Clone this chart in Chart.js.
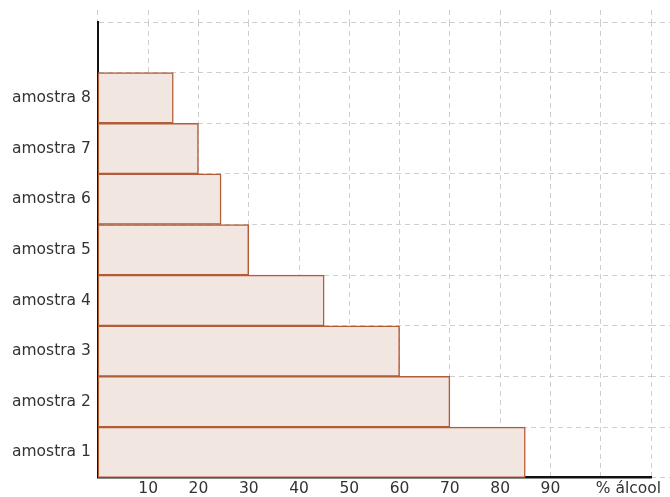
<!DOCTYPE html>
<html>
<head>
<meta charset="utf-8">
<script src="https://cdn.jsdelivr.net/npm/chart.js@4/dist/chart.umd.min.js"></script>
<style>
  html, body { margin: 0; padding: 0; background: #fff; }
  #wrap { width: 670px; height: 497px; }
</style>
</head>
<body>
<div id="wrap"><canvas id="alcoolChart"></canvas></div>
<script>
// top row is left empty, like in the original
const categories = ['', 'amostra 8', 'amostra 7', 'amostra 6', 'amostra 5',
                    'amostra 4', 'amostra 3', 'amostra 2', 'amostra 1'];
const alcool = [null, 15, 20, 24.5, 30, 45, 60, 70, 85];
const xTicks = [10, 20, 30, 40, 50, 60, 70, 80, 90];
const xUnitLabel = '% álcool';

const gridGray = '#cfcfcf';
const dash = [5, 4];
const labelFont = { family: 'DejaVu Sans', size: 15.5 };

const ctx = document.getElementById('alcoolChart');
new Chart(ctx, {
  type: 'bar',
  data: {
    labels: categories,
    datasets: [{
      data: alcool,
      backgroundColor: 'rgb(242, 230, 224)',
      borderColor: 'rgb(178, 92, 56)',
      borderWidth: 1.5,
      borderSkipped: false,
      categoryPercentage: 1,
      barPercentage: 1
    }]
  },
  options: {
    indexAxis: 'y',
    responsive: true,
    maintainAspectRatio: false,
    animation: false,
    layout: { padding: { top: 10, left: 5, bottom: -3 } },
    plugins: {
      legend: { display: false },
      tooltip: { enabled: false }
    },
    scales: {
      y: {
        offset: true,
        grid: { offset: true, color: gridGray, drawTicks: false, tickLength: 0 },
        border: { color: '#111', width: 2, dash: dash },
        ticks: { color: '#333', padding: 7, font: labelFont }
      },
      y2: {
        type: 'category',
        position: 'right',
        offset: true,
        grid: { offset: true, drawOnChartArea: false, color: gridGray, tickLength: 19, tickBorderDash: dash },
        border: { display: false },
        ticks: { display: false }
      },
      x: {
        min: 0,
        max: 110,
        grid: { display: false, drawTicks: false },
        border: { color: '#111', width: 2.5 },
        afterBuildTicks: axis => {
          axis.ticks = xTicks.concat([105.5]).map(v => ({ value: v }));
        },
        ticks: {
          autoSkip: false,
          maxRotation: 0,
          padding: 3,
          color: '#333',
          font: { family: 'DejaVu Sans', size: 15.5, lineHeight: 1.05 },
          callback: v => v > 100 ? xUnitLabel : v
        }
      },
      x2: {
        position: 'top',
        min: 0,
        max: 110,
        grid: { color: gridGray, tickLength: 12, tickBorderDash: dash },
        border: { display: false, dash: dash },
        ticks: { display: false, stepSize: 10 }
      }
    }
  }
});
</script>
</body>
</html>
